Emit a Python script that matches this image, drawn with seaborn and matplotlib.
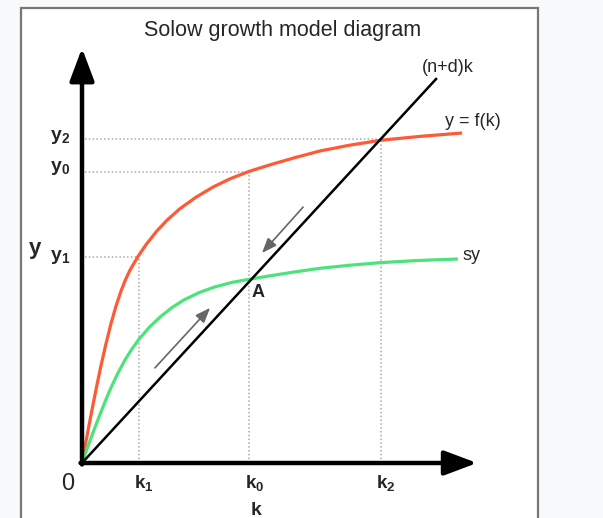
import matplotlib
matplotlib.use("Agg")
import matplotlib.pyplot as plt
import seaborn as sns
import pandas as pd
from matplotlib.patches import Rectangle

# ---- data (units: k and y) ----
f_k = [0, 0.13, 0.25, 0.37, 0.50, 0.63, 0.80, 0.97, 1.13, 1.30, 1.45, 1.60, 1.87, 2.15,
       2.50, 2.85, 3.27, 3.80, 4.37, 4.95, 5.57, 6.27, 7.10, 7.93, 8.90, 9.97, 11.30, 12.67]
f_y = [0, 0.70, 1.34, 1.96, 2.61, 3.23, 3.98, 4.66, 5.22, 5.73, 6.11, 6.43, 6.89, 7.30,
       7.74, 8.11, 8.48, 8.86, 9.20, 9.48, 9.72, 9.94, 10.18, 10.40, 10.59, 10.76, 10.89, 11.00]

sy_k = [0, 0.20, 0.40, 0.60, 0.80, 0.97, 1.20, 1.43, 1.65, 1.90, 2.25, 2.63, 3.00, 3.37,
        3.90, 4.43, 5.00, 5.67, 6.27, 7.10, 7.93, 8.90, 9.97, 11.20, 12.53]
sy_y = [0, 0.56, 1.10, 1.62, 2.12, 2.52, 3.00, 3.43, 3.78, 4.13, 4.53, 4.89, 5.18, 5.42,
        5.68, 5.87, 6.02, 6.14, 6.24, 6.37, 6.49, 6.59, 6.68, 6.75, 6.80]

dep_k = [0, 11.83]
dep_y = [0, 12.83]

k_marks = [1.90, 5.57, 9.97]      # k1, k0, k2
y_marks = [6.87, 9.70, 10.80]     # y1, y0, y2
k_labels = [r"$\mathbf{k_1}$", r"$\mathbf{k_0}$", r"$\mathbf{k_2}$"]
y_labels = [r"$\mathbf{y_1}$", r"$\mathbf{y_0}$", r"$\mathbf{y_2}$"]

# ---- styling ----
sns.set_style("white")
plt.rcParams["font.family"] = ["Liberation Sans", "DejaVu Sans"]
plt.rcParams["mathtext.fontset"] = "custom"
plt.rcParams["mathtext.rm"] = "Liberation Sans"
plt.rcParams["mathtext.bf"] = "Liberation Sans:bold"
plt.rcParams["mathtext.it"] = "Liberation Sans:italic"

RED = "#ff5a36"
GREEN = "#4ee27a"
DOT = "#aaaaaa"

fig = plt.figure(figsize=(6.03, 5.18), dpi=100)
fig.patch.set_facecolor("#f8f9fa")
fig.patches.append(Rectangle((21 / 603, -0.02), (538 - 21) / 603, (518 - 8) / 518 + 0.02,
                             transform=fig.transFigure, facecolor="white",
                             edgecolor="#777777", linewidth=1.6, zorder=-5))

ax = fig.add_axes([0, 0, 1, 1])
ax.set_zorder(2)
ax.set_facecolor("none")
ax.patch.set_alpha(0)

# dotted guide lines
for km, ym in zip(k_marks, y_marks):
    ax.plot([0.1, km], [ym, ym], ls=(0, (1, 1.5)), color=DOT, lw=1.1, zorder=1)
    ax.plot([km, km], [0, ym], ls=(0, (1, 1.5)), color=DOT, lw=1.1, zorder=1)

df_f = pd.DataFrame({"k": f_k, "y": f_y})
df_sy = pd.DataFrame({"k": sy_k, "y": sy_y})
df_dep = pd.DataFrame({"k": dep_k, "y": dep_y})

kw = dict(sort=False, estimator=None, solid_joinstyle="round", solid_capstyle="butt")
sns.lineplot(data=df_f, x="k", y="y", ax=ax, color=RED, lw=2.3, zorder=3, **kw)
sns.lineplot(data=df_sy, x="k", y="y", ax=ax, color=GREEN, lw=2.3, zorder=3, **kw)
sns.lineplot(data=df_dep, x="k", y="y", ax=ax, color="black", lw=1.8, zorder=4, **kw)
ax.set_xlim(-82 / 30, (603 - 82) / 30)
ax.set_ylim((463 - 518) / 30, 463 / 30)
ax.set_axis_off()

# axes arrows
arrow_style = "-|>,head_length=2.0,head_width=0.75"
ax.annotate("", xy=(0, 13.83), xytext=(0, -0.05),
            arrowprops=dict(arrowstyle=arrow_style, lw=3.2, color="black",
                            shrinkA=0, shrinkB=0), zorder=5)
ax.annotate("", xy=(13.17, 0), xytext=(-0.05, 0),
            arrowprops=dict(arrowstyle=arrow_style, lw=3.2, color="black",
                            shrinkA=0, shrinkB=0), zorder=5)

# gray adjustment arrows
gray_style = "-|>,head_length=0.9,head_width=0.35"
ax.annotate("", xy=(4.27, 5.17), xytext=(2.43, 3.17),
            arrowprops=dict(arrowstyle=gray_style, lw=1.2, color="#666666",
                            shrinkA=0, shrinkB=0))
ax.annotate("", xy=(6.0, 7.0), xytext=(7.37, 8.53),
            arrowprops=dict(arrowstyle=gray_style, lw=1.2, color="#666666",
                            shrinkA=0, shrinkB=0))

# texts
ax.text(6.7, 14.42, "Solow growth model diagram", ha="center", va="center", fontsize=15.5)
ax.text(12.2, 13.17, "(n+d)k", ha="center", va="center", fontsize=13)
ax.text(13.03, 11.37, "y = f(k)", ha="center", va="center", fontsize=13)
ax.text(13.0, 6.9, "sy", ha="center", va="center", fontsize=13)
ax.text(5.87, 5.67, "A", ha="center", va="center", fontsize=13, fontweight="bold")

for ym, lab, yc in zip(y_marks, y_labels, [6.85, 9.83, 10.85]):
    ax.text(-0.4, yc, lab, ha="right", va="center", fontsize=14)
ax.text(-1.57, 7.15, "y", ha="center", va="center", fontsize=16, fontweight="bold")

ax.text(-0.47, -0.7, "0", ha="center", va="center", fontsize=17)
for km, lab, xc in zip(k_marks, k_labels, [2.07, 5.77, 10.13]):
    ax.text(xc, -0.67, lab, ha="center", va="center", fontsize=13.5)
ax.text(5.8, -1.57, "k", ha="center", va="center", fontsize=14, fontweight="bold")

fig.savefig("out.png", dpi=100, facecolor=fig.get_facecolor())
